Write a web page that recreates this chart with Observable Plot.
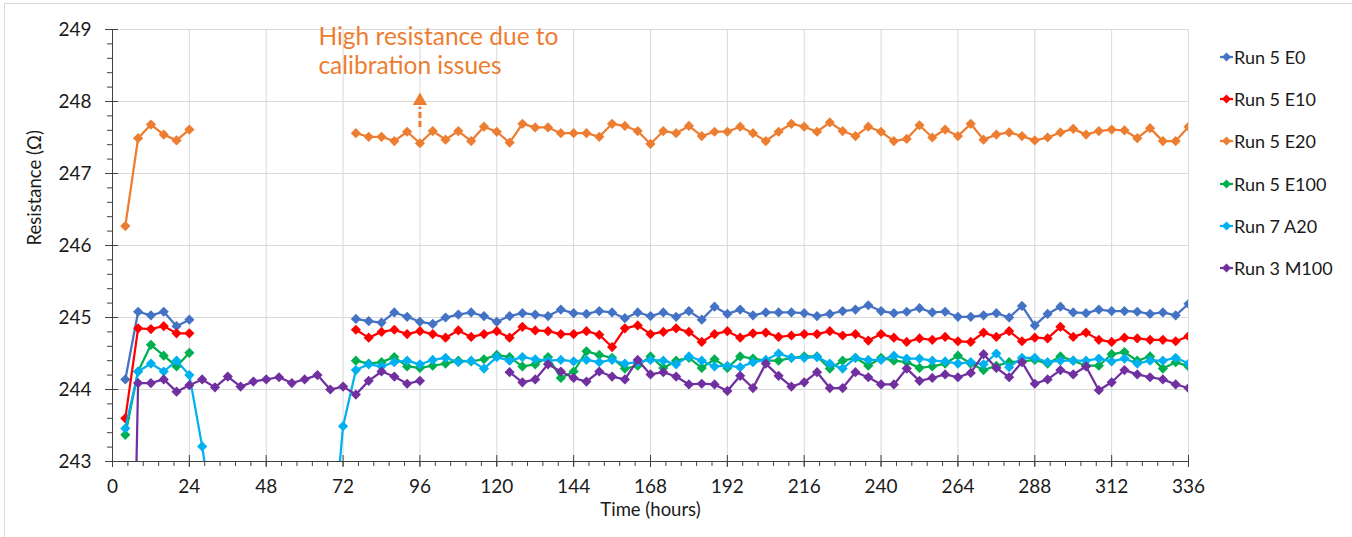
<!DOCTYPE html>
<html><head><meta charset="utf-8">
<script src="https://cdn.jsdelivr.net/npm/d3@7"></script>
<script src="https://cdn.jsdelivr.net/npm/@observablehq/plot@0.6"></script>
<style>
html,body{margin:0;padding:0;background:#fff;}
#wrap{position:relative;width:1352px;height:537px;overflow:hidden;font-family:Lato,sans-serif;}
#frame{position:absolute;left:4px;top:3px;width:1400px;height:600px;border-left:1px solid #d9d9d9;border-top:1px solid #d9d9d9;}
#chart{position:absolute;left:0;top:0;}
.item{position:absolute;left:1218px;height:22px;display:flex;align-items:center;font-size:18px;color:#1a1a1a;white-space:nowrap;}
.item svg{flex:none;}
</style></head>
<body><div id="wrap"><div id="frame"></div><div id="chart"></div><div id="legend"></div></div>
<script>
const N = null;
const hours = [4,8,12,16,20,24, 28,32,36,40,44,48, 52,56,60,64,68,72, 76,80,84,88,92,96,
  100,104,108,112,116,120, 124,128,132,136,140,144, 148,152,156,160,164,168,
  172,176,180,184,188,192, 196,200,204,208,212,216, 220,224,228,232,236,240,
  244,248,252,256,260,264, 268,272,276,280,284,288, 292,296,300,304,308,312,
  316,320,324,328,332,336];

const seriesNames = ["Run 5 E0","Run 5 E10","Run 5 E20","Run 5 E100","Run 7 A20","Run 3 M100"];
const seriesColors = ["#4472C4","#FF0000","#ED7D31","#00B050","#00B0F0","#7030A0"];

const run5E0 = [
  244.14,245.08,245.03,245.08,244.88,244.97,
  N,N,N,N,N,N,
  N,N,N,N,N,N,
  244.98,244.95,244.93,245.07,245.01,244.94,
  244.91,245.00,245.04,245.07,245.02,244.94,
  245.02,245.06,245.04,245.02,245.11,245.06,
  245.05,245.09,245.07,244.99,245.07,245.02,
  245.07,245.01,245.09,244.97,245.15,245.05,
  245.11,245.03,245.07,245.07,245.07,245.06,
  245.02,245.05,245.09,245.11,245.17,245.09,
  245.06,245.08,245.13,245.07,245.08,245.01,
  245.01,245.03,245.06,245.00,245.16,244.89,
  245.05,245.15,245.07,245.06,245.11,245.09,
  245.09,245.08,245.05,245.07,245.03,245.19];
const run5E10 = [
  243.60,244.85,244.84,244.88,244.78,244.78,
  N,N,N,N,N,N,
  N,N,N,N,N,N,
  244.83,244.72,244.80,244.83,244.77,244.81,
  244.77,244.72,244.82,244.73,244.77,244.81,
  244.72,244.87,244.82,244.81,244.77,244.77,
  244.81,244.76,244.59,244.85,244.89,244.77,
  244.80,244.85,244.80,244.66,244.77,244.81,
  244.72,244.78,244.79,244.73,244.75,244.77,
  244.77,244.81,244.75,244.77,244.68,244.77,
  244.72,244.66,244.71,244.69,244.73,244.67,
  244.66,244.79,244.73,244.81,244.67,244.72,
  244.71,244.87,244.73,244.79,244.69,244.66,
  244.72,244.71,244.69,244.69,244.67,244.74];
const run5E20 = [
  246.27,247.49,247.68,247.54,247.46,247.61,
  N,N,N,N,N,N,
  N,N,N,N,N,N,
  247.56,247.51,247.51,247.45,247.58,247.42,
  247.59,247.47,247.59,247.45,247.65,247.58,
  247.43,247.69,247.64,247.64,247.56,247.56,
  247.56,247.51,247.69,247.66,247.59,247.41,
  247.59,247.56,247.66,247.52,247.58,247.58,
  247.65,247.56,247.45,247.58,247.69,247.65,
  247.58,247.71,247.59,247.52,247.65,247.58,
  247.45,247.48,247.67,247.50,247.61,247.52,
  247.69,247.47,247.54,247.57,247.52,247.46,
  247.50,247.57,247.62,247.54,247.59,247.61,
  247.60,247.49,247.63,247.45,247.45,247.65];
const run5E100 = [
  243.37,244.25,244.62,244.47,244.32,244.51,
  N,N,N,N,N,N,
  N,N,N,N,N,N,
  244.40,244.36,244.38,244.45,244.32,244.30,
  244.33,244.36,244.40,244.39,244.42,244.48,
  244.45,244.32,244.35,244.45,244.16,244.25,
  244.53,244.48,244.44,244.29,244.33,244.46,
  244.30,244.40,244.44,244.30,244.42,244.30,
  244.46,244.43,244.40,244.40,244.44,244.46,
  244.46,244.29,244.40,244.44,244.33,244.44,
  244.40,244.38,244.30,244.32,244.36,244.47,
  244.36,244.27,244.33,244.38,244.39,244.41,
  244.36,244.46,244.40,244.33,244.33,244.49,
  244.52,244.40,244.46,244.29,244.38,244.32];
const run7A20 = [
  243.46,244.25,244.36,244.25,244.40,244.20,
  243.21,242.00,N,N,N,N,
  N,N,N,N,241.50,243.49,
  244.27,244.35,244.32,244.38,244.40,244.35,
  244.41,244.44,244.38,244.40,244.29,244.45,
  244.40,244.45,244.42,244.40,244.41,244.39,
  244.41,244.38,244.41,244.36,244.38,244.41,
  244.40,244.35,244.46,244.40,244.32,244.33,
  244.31,244.38,244.41,244.50,244.44,244.44,
  244.45,244.36,244.29,244.44,244.41,244.41,
  244.47,244.43,244.43,244.40,244.39,244.36,
  244.38,244.35,244.50,244.31,244.44,244.44,
  244.38,244.40,244.40,244.40,244.43,244.39,
  244.43,244.36,244.40,244.40,244.44,244.36];
const run3M100 = [
  235.40,244.09,244.09,244.14,243.97,244.06,
  244.14,244.03,244.18,244.04,244.11,244.14,
  244.17,244.09,244.14,244.20,244.00,244.04,
  243.93,244.12,244.25,244.18,244.08,244.12,
  N,N,N,N,N,N,
  244.24,244.10,244.14,244.35,244.25,244.16,
  244.11,244.25,244.18,244.14,244.41,244.21,
  244.24,244.18,244.07,244.08,244.07,243.98,
  244.19,244.02,244.36,244.19,244.04,244.10,
  244.24,244.02,244.02,244.24,244.17,244.07,
  244.07,244.29,244.12,244.16,244.21,244.17,
  244.23,244.49,244.30,244.17,244.38,244.08,
  244.14,244.27,244.21,244.32,243.99,244.10,
  244.27,244.21,244.17,244.14,244.07,244.02];
const seriesValues = [run5E0, run5E10, run5E20, run5E100, run7A20, run3M100];

const xTicks = [0,24,48,72,96,120,144,168,192,216,240,264,288,312,336];
const yTicks = [243,244,245,246,247,248,249];
const xLabel = "Time (hours)";
const yLabel = "Resistance (Ω)";

const noteLines = ["High resistance due to", "calibration issues"];
const noteTextX = 64.3;
const noteTextY = [248.9, 248.49];
const noteArrowX = 96;
const noteShaftY = [247.64, 247.92];
const noteHeadY = 248.01;
const noteColor = "#ED7D31";

const xMinor = d3.range(0, 71).map(i => i * 4.8);
const yMinor = d3.range(0, 31).map(i => 243 + i * 0.2);

const axisColor = "#404040";
const textColor = "#1a1a1a";

const rows = [];
seriesNames.forEach((name, s) => seriesValues[s].forEach((v, i) => rows.push({series: name, hour: hours[i], value: v})));

const marks = [
  Plot.gridX(xTicks, {stroke: "#d9d9d9", strokeOpacity: 1}),
  Plot.gridY(yTicks, {stroke: "#d9d9d9", strokeOpacity: 1}),
  Plot.ruleX([0], {stroke: axisColor}),
  Plot.ruleY([243], {stroke: axisColor}),
  Plot.ruleY(yMinor, {x1: 0, x2: 0, insetLeft: -5, insetRight: 0, stroke: axisColor}),
  Plot.ruleY(yTicks, {x1: 0, x2: 0, insetLeft: -7, insetRight: -6, stroke: axisColor}),
  Plot.ruleX(xMinor, {y1: 243, y2: 243, insetTop: 0, insetBottom: -5, stroke: axisColor}),
  Plot.ruleX(xTicks, {y1: 243, y2: 243, insetTop: -6, insetBottom: -6, stroke: axisColor}),
  Plot.axisY(yTicks, {tickSize: 0, tickPadding: 21, label: null, fontSize: 19, fill: textColor, tickFormat: d => String(d)}),
  Plot.axisX(xTicks, {tickSize: 0, tickPadding: 18, label: null, fontSize: 19, fill: textColor, tickFormat: d => String(d)}),
  Plot.text([yLabel], {frameAnchor: "left", rotate: -90, dx: -77, fontSize: 18.5, fill: textColor}),
  Plot.text([xLabel], {frameAnchor: "bottom", dy: 54, fontSize: 18.5, fill: textColor})
];
seriesNames.forEach((name, s) => {
  const d = rows.filter(r => r.series === name);
  marks.push(Plot.line(d, {x: "hour", y: "value", stroke: seriesColors[s], strokeWidth: 2.25, clip: true}));
  marks.push(Plot.dot(d.filter(r => r.value != null), {x: "hour", y: "value", symbol: "diamond2", r: 4.6, fill: seriesColors[s], stroke: "none", clip: true}));
});
marks.push(
  Plot.ruleX([noteArrowX], {y1: noteShaftY[0], y2: noteShaftY[1], stroke: noteColor, strokeWidth: 3, strokeDasharray: "6,3"}),
  Plot.dot([0], {x: [noteArrowX], y: [noteHeadY], symbol: "triangle", r: 5.3, fill: noteColor, stroke: "none"}),
  Plot.text(noteLines, {x: noteLines.map(() => noteTextX), y: noteTextY, text: d => d, textAnchor: "start", fontSize: 24.5, fill: noteColor})
);

const chart = Plot.plot({
  width: 1352, height: 537,
  marginLeft: 112, marginRight: 164, marginTop: 29, marginBottom: 76,
  x: {domain: [0, 336]},
  y: {domain: [243, 249]},
  style: {fontFamily: "Lato, sans-serif", fontSize: "17px", color: textColor, background: "transparent", overflow: "visible"},
  marks
});
document.getElementById("chart").appendChild(chart);

const legend = document.getElementById("legend");
seriesNames.forEach((name, i) => {
  const c = seriesColors[i];
  const div = document.createElement("div");
  div.className = "item";
  div.style.top = (45.7 + i * 42.3) + "px";
  div.innerHTML = `<svg width="16" height="12"><line x1="2" x2="15" y1="6" y2="6" stroke="${c}" stroke-width="2.25"/><path d="M8.5,1.5L13,6L8.5,10.5L4,6Z" fill="${c}"/></svg><span>${name}</span>`;
  legend.appendChild(div);
});
</script>
</body></html>
